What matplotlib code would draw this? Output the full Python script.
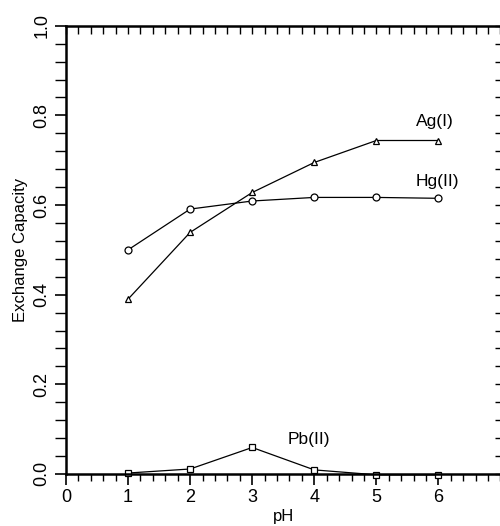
import numpy as np
import matplotlib.pyplot as plt
from matplotlib.ticker import MultipleLocator, NullFormatter

plt.rcParams['font.family'] = ['Liberation Sans', 'DejaVu Sans']

# data
ph = [1, 2, 3, 4, 5, 6]
ag = [0.39, 0.539, 0.628, 0.695, 0.744, 0.744]
hg = [0.50, 0.591, 0.609, 0.617, 0.617, 0.615]
pb = [0.002, 0.011, 0.059, 0.009, -0.002, -0.002]

fig = plt.figure(figsize=(5, 5.26), dpi=100)
ax = fig.add_axes([0.132, 0.099, 0.869, 0.852])

ax.plot(ph, ag, color='black', lw=0.9, marker='^', ms=4.5, mfc='white', mec='black', mew=0.9)
ax.plot(ph, hg, color='black', lw=0.9, marker='o', ms=5, mfc='white', mec='black', mew=0.9)
ax.plot(ph, pb, color='black', lw=0.9, marker='s', ms=4.5, mfc='white', mec='black', mew=0.9, clip_on=False)

ax.text(5.94, 0.786, 'Ag(I)', ha='center', va='center', fontsize=12.5)
ax.text(5.98, 0.652, 'Hg(II)', ha='center', va='center', fontsize=12.5)
ax.text(3.91, 0.076, 'Pb(II)', ha='center', va='center', fontsize=12.5)

ax.set_xlim(0, 7)
ax.set_ylim(0, 1.0)
ax.xaxis.set_minor_locator(MultipleLocator(0.2))
ax.yaxis.set_minor_locator(MultipleLocator(0.04))
ax.set_xticks([0, 1, 2, 3, 4, 5, 6])
ax.set_yticks([0.0, 0.2, 0.4, 0.6, 0.8, 1.0])
ax.set_yticklabels(['0.0', '0.2', '0.4', '0.6', '0.8', '1.0'], rotation=90, va='center')

ax.tick_params(axis='x', which='major', direction='out', length=8, width=1.2, labelsize=13, pad=3)
ax.tick_params(axis='x', which='minor', direction='out', length=5, width=1)
ax.tick_params(axis='y', which='major', direction='out', length=8, width=1.2, labelsize=13, pad=3)
ax.tick_params(axis='y', which='minor', direction='out', length=8, width=1)

# inward ticks along top and right
top = ax.secondary_xaxis('top')
top.xaxis.set_major_locator(MultipleLocator(0.2))
top.xaxis.set_major_formatter(NullFormatter())
top.tick_params(direction='in', length=6, width=1)
top.spines['top'].set_linewidth(1.8)

right = ax.secondary_yaxis('right')
right.yaxis.set_major_locator(MultipleLocator(0.04))
right.yaxis.set_major_formatter(NullFormatter())
right.tick_params(direction='in', length=4, width=1)
right.spines['right'].set_visible(False)

for s in ['left', 'bottom']:
    ax.spines[s].set_linewidth(1.8)
ax.spines['top'].set_visible(False)
ax.spines['right'].set_visible(False)

ax.set_xlabel('pH', fontsize=12, labelpad=2)
ax.set_ylabel('Exchange Capacity', fontsize=12, labelpad=4)

fig.savefig('out.png', dpi=100)
